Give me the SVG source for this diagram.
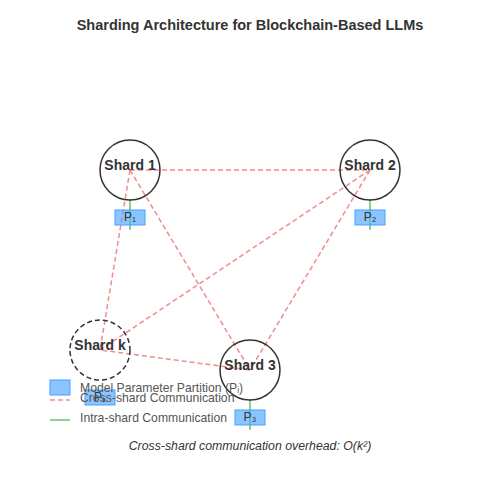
<svg xmlns="http://www.w3.org/2000/svg" width="500" height="500" viewBox="0 0 500 500">
<style>
.bg{fill:#ffffff}
.title{font-family:"Liberation Sans",Arial,sans-serif;font-size:14.5px;font-weight:bold;fill:#333333;text-anchor:middle}
.shard{fill:none;stroke:#333333;stroke-width:1.5}
.shard.dashed{stroke-dasharray:5,3}
.label{font-family:"Liberation Sans",Arial,sans-serif;font-size:14px;font-weight:bold;fill:#333333;text-anchor:middle}
.param{fill:#4da6ff;fill-opacity:0.65;stroke:#4a9eff;stroke-width:1}
.ptext{font-family:"Liberation Sans",Arial,sans-serif;font-size:12px;fill:#333333;text-anchor:middle}
.cross{stroke:#f08080;stroke-width:1.5;stroke-dasharray:5,3;fill:none;opacity:0.9}
.intra{stroke:#8fd18f;stroke-width:2;fill:none}
.legend{font-family:"Liberation Sans",Arial,sans-serif;font-size:12.2px;fill:#555555}
.note{font-family:"Liberation Sans",Arial,sans-serif;font-size:12.3px;font-style:italic;fill:#333333;text-anchor:middle}
</style>
<rect class="bg" x="0" y="0" width="500" height="500"/>
<text class="title" x="250" y="30">Sharding Architecture for Blockchain-Based LLMs</text>
<g id="connectors">
<line class="cross" x1="130" y1="170" x2="370" y2="170"/>
<line class="cross" x1="130" y1="170" x2="250" y2="370"/>
<line class="cross" x1="130" y1="170" x2="100" y2="350"/>
<line class="cross" x1="370" y1="170" x2="250" y2="370"/>
<line class="cross" x1="370" y1="170" x2="100" y2="350"/>
<line class="cross" x1="250" y1="370" x2="100" y2="350"/>
<line class="intra" x1="130" y1="200" x2="130" y2="230"/>
<line class="intra" x1="370" y1="200" x2="370" y2="230"/>
<line class="intra" x1="250" y1="400" x2="250" y2="430"/>
</g>
<g id="shard1">
<circle class="shard" cx="130" cy="170" r="30"/>
<text class="label" x="130" y="170">Shard 1</text>
<rect class="param" x="115" y="210" width="30" height="15"/>
<text class="ptext" x="130" y="221">P₁</text>
</g>
<g id="shard2">
<circle class="shard" cx="370" cy="170" r="30"/>
<text class="label" x="370" y="170">Shard 2</text>
<rect class="param" x="355" y="210" width="30" height="15"/>
<text class="ptext" x="370" y="221">P₂</text>
</g>
<g id="shard3">
<circle class="shard" cx="250" cy="370" r="30"/>
<text class="label" x="250" y="370">Shard 3</text>
<rect class="param" x="235" y="410" width="30" height="15"/>
<text class="ptext" x="250" y="421">P₃</text>
</g>
<g id="shardk">
<circle class="shard dashed" cx="100" cy="350" r="30"/>
<text class="label" x="100" y="350">Shard k</text>
<rect class="param" x="85" y="390" width="30" height="15"/>
<text class="ptext" x="100" y="401">Pₖ</text>
</g>
<g id="legend">
<rect class="param" x="50" y="380" width="20" height="15"/>
<text class="legend" x="80" y="392">Model Parameter Partition (Pᵢ)</text>
<line class="cross" x1="50" y1="400" x2="70" y2="400"/>
<text class="legend" x="80" y="402">Cross-shard Communication</text>
<line class="intra" x1="50" y1="420" x2="70" y2="420"/>
<text class="legend" x="80" y="422">Intra-shard Communication</text>
</g>
<text class="note" x="250" y="450">Cross-shard communication overhead: O(k²)</text>
</svg>
